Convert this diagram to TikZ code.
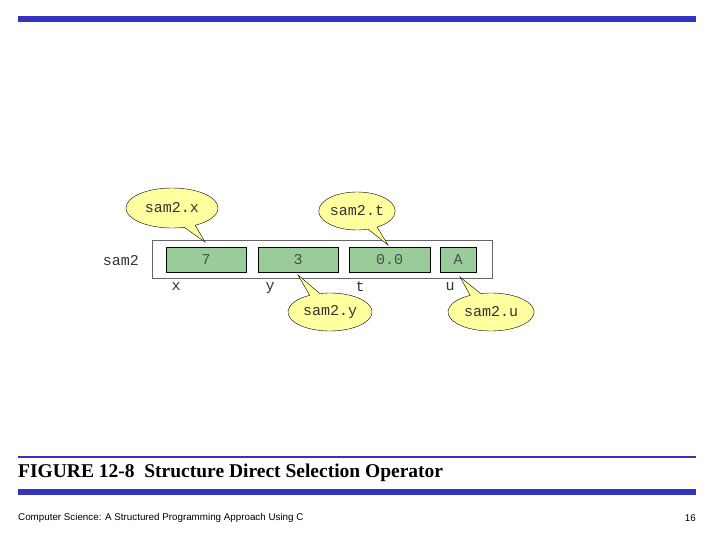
\documentclass[tikz,border=0pt]{standalone}
\usepackage{fontspec}
\setmainfont{Liberation Serif}
\setsansfont{Liberation Sans}
\setmonofont{Liberation Mono}
\usetikzlibrary{shapes.callouts}
\definecolor{barblue}{RGB}{51,51,190}
\definecolor{cellgreen}{RGB}{153,204,153}
\definecolor{bubble}{RGB}{255,255,160}
\begin{document}
\begin{tikzpicture}[x=1pt,y=-1pt,
  cell/.style = {rectangle,draw=black,semithick,fill=cellgreen,minimum height=25pt,inner sep=0pt,font=\ttfamily\fontsize{15}{15}\selectfont,text=black!70},
  field/.style = {font=\ttfamily\fontsize{15}{15}\selectfont,text=black!80},
  bubble/.style = {ellipse callout,draw=black,thin,fill=bubble,minimum width=92pt,minimum height=40pt,inner sep=0pt,font=\ttfamily\fontsize{15}{15}\selectfont,text=black!80}]
\useasboundingbox (0,0) rectangle (720,540);
\fill[barblue] (18,16) rectangle (696,22);
% structure
\node[draw=black!60,thick,fill=white,minimum width=340pt,minimum height=38pt,inner sep=0pt] (box) at (322,259) {};
\node[cell,minimum width=80pt] (cx) at (206,259.5) {7};
\node[cell,minimum width=80pt] (cy) at (298,259.5) {3};
\node[cell,minimum width=81pt] (ct) at (389.5,259.5) {0.0};
\node[cell,minimum width=36pt] (cu) at (458,259.5) {A};
\node[field] (name) at (121,261) {sam2};
\node[field] (lx) at (176,287) {x};
\node[field] (ly) at (270,288) {y};
\node[field] (lt) at (360,287) {t};
\node[field] (lu) at (450,287) {u};
% callouts
\coordinate (px) at (205,242);
\coordinate (pt) at (388,245);
\coordinate (py) at (298,275);
\coordinate (pu) at (460,277);
\node[bubble,callout absolute pointer={(px)}] (bx) at (172,208) {sam2.x};
\node[bubble,callout absolute pointer={(pt)},minimum width=76pt,minimum height=38pt] (bt) at (357,211) {sam2.t};
\node[bubble,callout absolute pointer={(py)},minimum width=84pt,minimum height=38pt] (by) at (330,312) {sam2.y};
\node[bubble,callout absolute pointer={(pu)},minimum width=86pt,minimum height=38pt] (bu) at (491,312) {sam2.u};
% caption and footer
\fill[barblue] (18,456) rectangle (696,458);
\node[anchor=west,inner sep=0pt,font=\bfseries\fontsize{19.5}{20}\selectfont] (cap) at (18,473) {FIGURE 12-8\ \ Structure Direct Selection Operator};
\fill[barblue] (18,489) rectangle (696,495);
\node[anchor=west,inner sep=0pt,font=\sffamily\fontsize{9.8}{10}\selectfont] (foot) at (18,518) {Computer Science: A Structured Programming Approach Using C};
\node[anchor=east,inner sep=0pt,font=\sffamily\fontsize{9.8}{10}\selectfont] (page) at (696,518) {16};
\end{tikzpicture}
\end{document}
